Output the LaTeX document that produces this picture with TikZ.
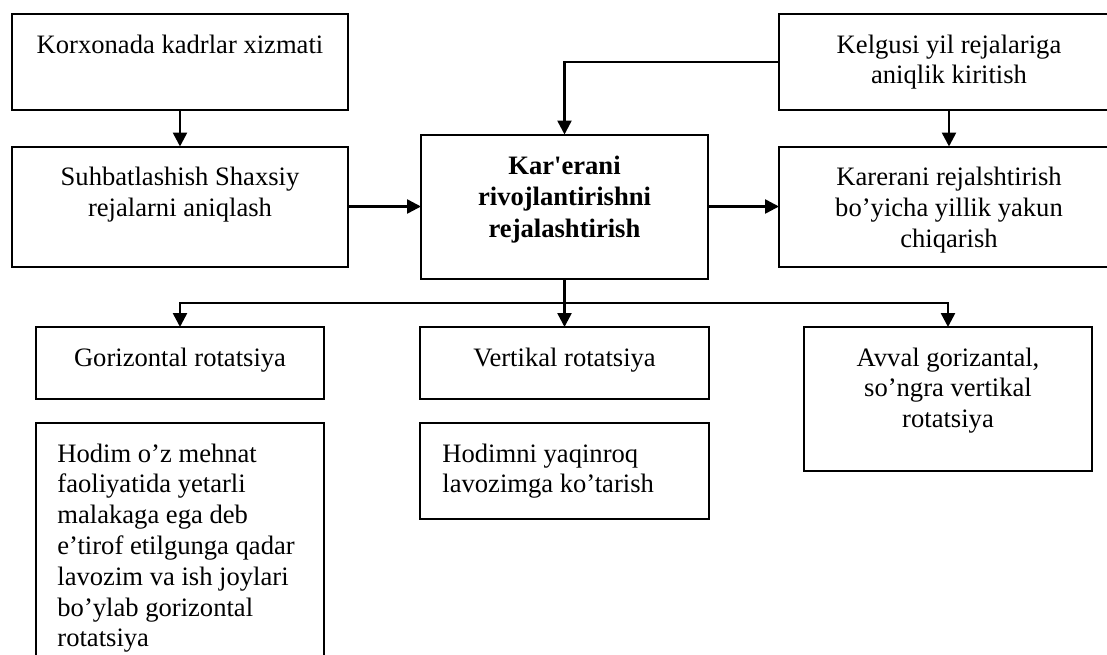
\documentclass[tikz,border=0pt]{standalone}
\usepackage{fontspec}
\setmainfont{Liberation Serif}[Ligatures=TeXOff]
\usetikzlibrary{positioning,arrows.meta}

\begin{document}
\begin{tikzpicture}[
    x=0.5pt, y=-0.5pt,
    box/.style={draw=black, line width=1pt, inner sep=0pt, outer sep=0pt},
    txt/.style={inner sep=0pt, align=center, font=\fontsize{13.3}{15.4}\selectfont},
    ttl/.style={txt, font=\fontsize{13.3}{15.8}\selectfont\bfseries},
    flow/.style={draw=black, line width=1.25pt, -{Triangle[length=7pt,width=7pt]}},
  ]
  \path[use as bounding box, clip] (0,0) rectangle (1107,654);

  \def\gap{8.6pt}

  % ---------- left column
  \node[box, minimum width=168pt, minimum height=48pt] (korx) at (180,62) {};
  \node[txt, below=\gap of korx.north] {\strut Korxonada kadrlar xizmati};
  \node[box, minimum width=168pt, minimum height=60pt] (suhb) at (180,206.5) {};
  \node[txt, below=\gap of suhb.north] {\strut Suhbatlashish Shaxsiy\\ rejalarni aniqlash};

  % ---------- centre
  \node[box, minimum width=143.5pt, minimum height=72pt] (kar) at (564.5,206.5) {};
  \node[ttl, below=\gap of kar.north] {\strut Kar'erani\\ rivojlantirishni\\ rejalashtirish};

  % ---------- right column
  \node[box, minimum width=170pt, minimum height=48pt] (kelg) at (949,62) {};
  \node[txt, below=\gap of kelg.north] {\strut Kelgusi yil rejalariga\\ aniqlik kiritish};
  \node[box, minimum width=170pt, minimum height=60pt] (karer) at (949,206.5) {};
  \node[txt, below=\gap of karer.north] {\strut Karerani rejalshtirish\\ bo’yicha yillik yakun\\ chiqarish};

  % ---------- rotation kinds
  \node[box, minimum width=144pt, minimum height=36pt] (gor) at (180,363) {};
  \node[txt, below=\gap of gor.north] {\strut Gorizontal rotatsiya};
  \node[box, minimum width=144.5pt, minimum height=36pt] (vert) at (564.5,363) {};
  \node[txt, below=\gap of vert.north] {\strut Vertikal rotatsiya};
  \node[box, minimum width=144pt, minimum height=72pt] (avv) at (948,399) {};
  \node[txt, below=\gap of avv.north] {\strut Avval gorizantal,\\ so’ngra vertikal\\ rotatsiya};

  % ---------- explanations
  \node[box, minimum width=144pt, minimum height=138.5pt] (hodim) at (180,561.5) {};
  \node[txt, align=left, anchor=north west, below right=\gap and 10.5pt of hodim.north west]
    {\strut Hodim o’z mehnat\\ faoliyatida yetarli\\ malakaga ega deb\\ e’tirof etilgunga qadar\\
     lavozim va ish joylari\\ bo’ylab gorizontal\\ rotatsiya};
  \node[box, minimum width=144.5pt, minimum height=48pt] (hodimni) at (564.5,471) {};
  \node[txt, align=left, anchor=north west, below right=\gap and 11pt of hodimni.north west]
    {\strut Hodimni yaqinroq\\ lavozimga ko’tarish};

  % ---------- connectors
  \coordinate (split) at (564.5,303);
  \draw[flow] (korx.south) -- (suhb.north);
  \draw[flow] (suhb.east) -- (kar.west);
  \draw[flow] (kar.east) -- (karer.west);
  \draw[flow] (kelg.west) -| (kar.north);
  \draw[flow] (kelg.south) -- (karer.north);
  \draw[flow] (kar.south) -- (vert.north);
  \draw[flow] (split) -| (gor.north);
  \draw[flow] (split) -| (avv.north);

\end{tikzpicture}
\end{document}
